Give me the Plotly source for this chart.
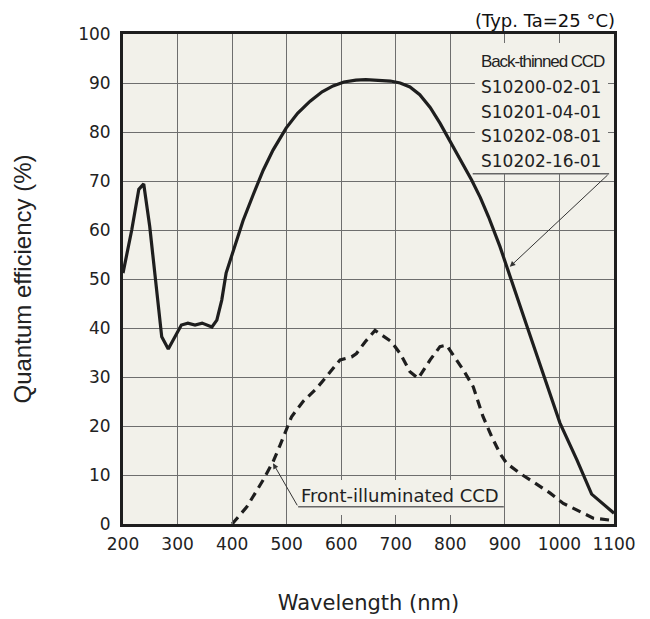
import plotly.graph_objects as go

# Back-thinned CCD (solid)
wl_bt = [200, 216, 229, 238, 249, 259, 271, 283, 295, 307, 319, 332, 345, 363, 372, 381, 389, 402,
         420, 439, 457, 475, 499, 520, 543, 565, 585, 605, 627, 645, 670, 690, 708, 726, 744, 763,
         781, 800, 820, 839, 855, 870, 891, 906, 922, 940, 960, 980, 1001, 1032, 1059, 1100]
qe_bt = [51.2, 60.0, 68.3, 69.4, 60.7, 49.8, 38.2, 35.7, 38.2, 40.6, 41.0, 40.6, 41.0, 40.2, 41.6, 45.7, 51.2, 55.9,
         61.9, 67.3, 72.2, 76.3, 80.8, 83.8, 86.3, 88.2, 89.4, 90.2, 90.6, 90.7, 90.6, 90.4, 90.0, 89.2, 87.6, 85.0,
         81.8, 78.0, 74.0, 70.2, 66.6, 62.7, 56.6, 51.8, 46.4, 40.5, 34.0, 27.5, 20.6, 13.1, 6.1, 2.2]

# Front-illuminated CCD (dashed)
wl_fi = [400, 427, 457, 475, 488, 501, 509, 530, 555, 573, 598, 619, 628, 644, 662, 692, 708, 726,
         741, 763, 781, 793, 805, 824, 842, 860, 876, 891, 903, 928, 952, 983, 1007, 1032, 1062, 1100]
qe_fi = [0.0, 3.5, 9.0, 12.7, 16.1, 19.9, 21.9, 25.0, 27.7, 30.1, 33.5, 34.1, 34.8, 37.2, 39.5, 37.2, 34.8, 31.1,
         29.7, 33.5, 36.2, 36.5, 34.5, 31.4, 28.0, 21.9, 17.8, 14.4, 12.4, 10.3, 8.6, 6.3, 4.2, 2.9, 1.2, 0.7]

x_ticks = [200, 300, 400, 500, 600, 700, 800, 900, 1000, 1100]
y_ticks = [0, 10, 20, 30, 40, 50, 60, 70, 80, 90, 100]

bt_labels = ["Back-thinned CCD", "S10200-02-01", "S10201-04-01", "S10202-08-01", "S10202-16-01"]
bt_label_y = [94.35, 89.24, 84.14, 79.18, 74.08]

BG = "#f2f1ea"
GRID = "#6e6e6e"
INK = "#1e1e1e"
TAHOMA = "DejaVu Sans, Verdana, sans-serif"
ARIAL = "Liberation Sans, Arial, sans-serif"

fig = go.Figure()
fig.add_trace(go.Scatter(x=wl_bt, y=qe_bt, mode="lines",
                         line=dict(color=INK, width=3.2), showlegend=False, hoverinfo="skip"))
fig.add_trace(go.Scatter(x=wl_fi, y=qe_fi, mode="lines",
                         line=dict(color=INK, width=3.2, dash="9px,6px"), showlegend=False, hoverinfo="skip"))

# label backgrounds (cover grid lines)
fig.add_shape(type="rect", xref="x", yref="y", x0=845, x1=1089, y0=71.5, y1=100,
              fillcolor=BG, line=dict(width=0), layer="between")
fig.add_shape(type="rect", xref="x", yref="y", x0=521, x1=898, y0=0, y1=9.0,
              fillcolor=BG, line=dict(width=0), layer="between")
# underlines
fig.add_shape(type="line", xref="x", yref="y", x0=841, x1=1091, y0=71.5, y1=71.5,
              line=dict(color="#666666", width=1.5))
fig.add_shape(type="line", xref="x", yref="y", x0=521, x1=898, y0=3.5, y1=3.5,
              line=dict(color="#666666", width=1.5))

annotations = []
for txt, yy in zip(bt_labels, bt_label_y):
    if txt.startswith("Back"):
        shown = '<span style="letter-spacing:-1.1px">' + txt + '</span>'
        fnt = dict(family=ARIAL, size=17, color="#222222")
    else:
        shown = txt
        fnt = dict(family=TAHOMA, size=17, color="#222222")
    annotations.append(dict(x=852, y=yy, xref="x", yref="y", text=shown, showarrow=False,
                            xanchor="left", yanchor="middle", font=fnt))
annotations.append(dict(x=909, y=52.5, ax=1091, ay=71.5, xref="x", yref="y", axref="x", ayref="y",
                        text="", showarrow=True, arrowhead=2, arrowsize=1.1, arrowwidth=1,
                        arrowcolor="#333333"))
annotations.append(dict(x=475, y=12.4, ax=521, ay=3.5, xref="x", yref="y", axref="x", ayref="y",
                        text="", showarrow=True, arrowhead=2, arrowsize=1.1, arrowwidth=1,
                        arrowcolor="#333333"))
annotations.append(dict(x=708, y=5.9, xref="x", yref="y", text="Front-illuminated CCD", showarrow=False,
                        xanchor="center", yanchor="middle",
                        font=dict(family=TAHOMA, size=18, color="#222222")))
annotations.append(dict(x=1100, y=1, xref="x", yref="paper", text="(Typ. Ta=25 °C)", showarrow=False,
                        xanchor="right", yanchor="bottom", yshift=1, xshift=3,
                        font=dict(family=TAHOMA, size=18, color="#111111")))

fig.update_layout(
    width=642, height=611,
    margin=dict(l=115, r=36, t=26, b=95),
    paper_bgcolor="white", plot_bgcolor=BG,
    annotations=annotations,
    showlegend=False,
)
fig.update_xaxes(range=[200, 1100], tickvals=x_ticks, ticktext=[str(v) for v in x_ticks],
                 automargin=False,
                 showgrid=True, gridcolor=GRID, gridwidth=1.2,
                 showline=True, linecolor=INK, linewidth=3, mirror="ticks",
                 ticks="inside", ticklen=9, tickcolor=GRID, tickwidth=1.2,
                 ticklabelstandoff=3,
                 tickfont=dict(family=TAHOMA, size=17, color="#222222"),
                 title=dict(text="Wavelength (nm)", standoff=42,
                            font=dict(family=TAHOMA, size=21, color="#222222")),
                 zeroline=False)
fig.update_yaxes(range=[0, 100], tickvals=y_ticks, ticktext=[str(v) for v in y_ticks],
                 automargin=False,
                 showgrid=True, gridcolor=GRID, gridwidth=1.2,
                 showline=True, linecolor=INK, linewidth=3, mirror=True,
                 ticks="", ticklabelstandoff=6,
                 tickfont=dict(family=TAHOMA, size=17, color="#222222"),
                 title=dict(text="Quantum efficiency (%)", standoff=40,
                            font=dict(family=ARIAL, size=24, color="#222222")),
                 zeroline=False)

fig.write_html("out.html")
